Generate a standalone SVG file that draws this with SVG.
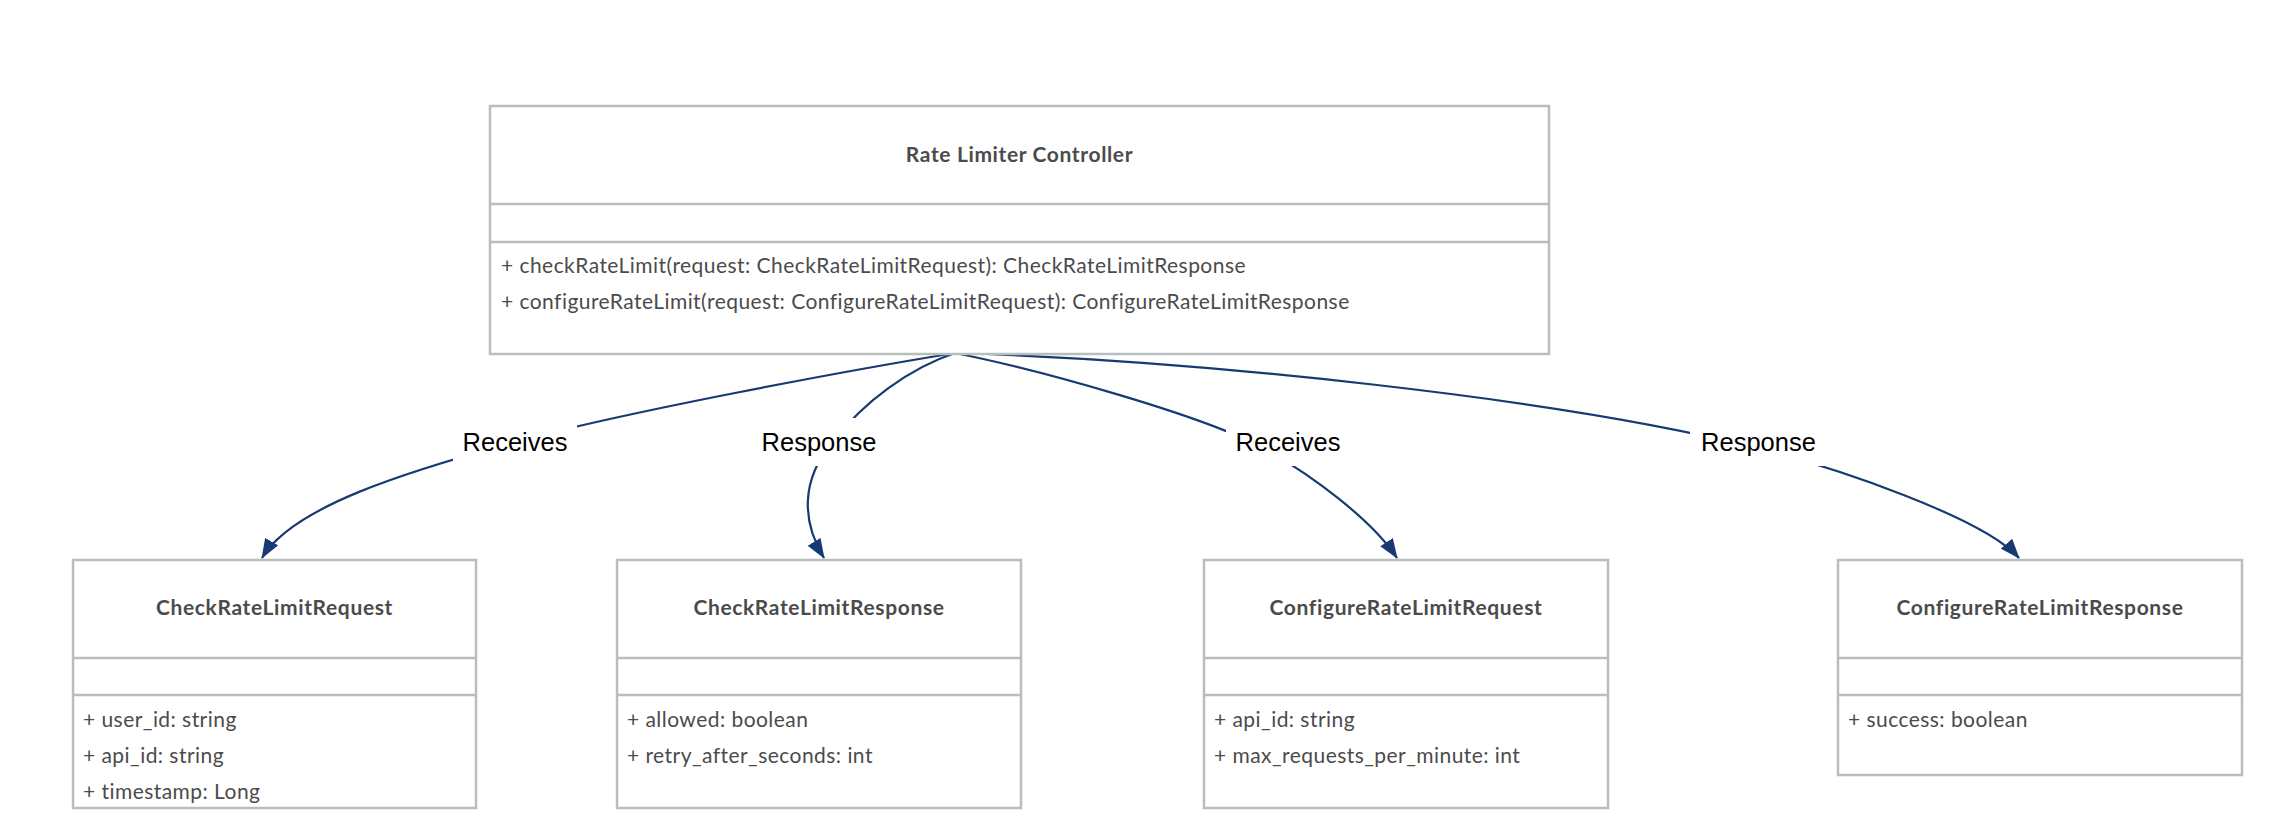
<svg xmlns="http://www.w3.org/2000/svg" width="2282" height="826" viewBox="0 0 2282 826">
<style>
.box{fill:#ffffff;stroke:#b8bdbe;stroke-width:2.5}
.div{stroke:#b8bdbe;stroke-width:2.5}
.title{font-family:Lato,"Open Sans","DejaVu Sans",sans-serif;font-weight:bold;font-size:21px;letter-spacing:0.63px;fill:#4b4b4b;text-anchor:middle}
.mem{font-family:Lato,"Open Sans","DejaVu Sans",sans-serif;font-size:21px;letter-spacing:0.45px;fill:#4b4b4b}
.edge{fill:none;stroke:#183a72;stroke-width:2.2}
.lblbg{fill:#ffffff}
.lbl{font-family:"Liberation Sans",Arial,sans-serif;font-size:25.5px;fill:#000000;text-anchor:middle}
</style>
<defs>
<marker id="arr" markerUnits="userSpaceOnUse" viewBox="0 0 20 15" markerWidth="20" markerHeight="15" refX="19" refY="7.5" orient="auto">
<path d="M0,0 L20,7.5 L0,15 z" fill="#183a72"/>
</marker>
</defs>
<rect width="2282" height="826" fill="#ffffff"/>

<g id="connectors">
<path class="edge" marker-end="url(#arr)" d="M955,353 C845,371 625,412 515,442 C405,472 292,507 262,558"/>
<path class="edge" marker-end="url(#arr)" d="M955,353 C910,368 863,402 833,442 C800,480 802,522 824,558"/>
<path class="edge" marker-end="url(#arr)" d="M955,353 C1040,370 1201,415 1261,447 C1311,474 1372,520 1397,558"/>
<path class="edge" marker-end="url(#arr)" d="M955,353 C1205,361 1557,398 1757,448 C1837,468 1984,518 2019,558"/>
<g id="edge-labels">
<rect class="lblbg" x="453" y="418" width="124" height="48"/>
<text class="lbl" x="515" y="451">Receives</text>
<rect class="lblbg" x="751" y="418" width="136" height="48"/>
<text class="lbl" x="819" y="451">Response</text>
<rect class="lblbg" x="1226" y="418" width="124" height="48"/>
<text class="lbl" x="1288" y="451">Receives</text>
<rect class="lblbg" x="1690" y="418" width="137" height="48"/>
<text class="lbl" x="1758.5" y="451">Response</text>
</g>
</g>

<g id="RateLimiterController">
<rect class="box" x="490" y="106" width="1059" height="248"/>
<line class="div" x1="490" y1="204" x2="1549" y2="204"/>
<line class="div" x1="490" y1="242" x2="1549" y2="242"/>
<text class="title" x="1019.5" y="162">Rate Limiter Controller</text>
<text class="mem" x="501" y="273">+ checkRateLimit(request: CheckRateLimitRequest): CheckRateLimitResponse</text>
<text class="mem" x="501" y="309">+ configureRateLimit(request: ConfigureRateLimitRequest): ConfigureRateLimitResponse</text>
</g>

<g id="CheckRateLimitRequest">
<rect class="box" x="73" y="560" width="403" height="248"/>
<line class="div" x1="73" y1="658" x2="476" y2="658"/>
<line class="div" x1="73" y1="695" x2="476" y2="695"/>
<text class="title" x="274.5" y="615">CheckRateLimitRequest</text>
<text class="mem" x="83" y="727">+ user_id: string</text>
<text class="mem" x="83" y="763">+ api_id: string</text>
<text class="mem" x="83" y="799">+ timestamp: Long</text>
</g>

<g id="CheckRateLimitResponse">
<rect class="box" x="617" y="560" width="404" height="248"/>
<line class="div" x1="617" y1="658" x2="1021" y2="658"/>
<line class="div" x1="617" y1="695" x2="1021" y2="695"/>
<text class="title" x="819" y="615">CheckRateLimitResponse</text>
<text class="mem" x="627" y="727">+ allowed: boolean</text>
<text class="mem" x="627" y="763">+ retry_after_seconds: int</text>
</g>

<g id="ConfigureRateLimitRequest">
<rect class="box" x="1204" y="560" width="404" height="248"/>
<line class="div" x1="1204" y1="658" x2="1608" y2="658"/>
<line class="div" x1="1204" y1="695" x2="1608" y2="695"/>
<text class="title" x="1406" y="615">ConfigureRateLimitRequest</text>
<text class="mem" x="1214" y="727">+ api_id: string</text>
<text class="mem" x="1214" y="763">+ max_requests_per_minute: int</text>
</g>

<g id="ConfigureRateLimitResponse">
<rect class="box" x="1838" y="560" width="404" height="215"/>
<line class="div" x1="1838" y1="658" x2="2242" y2="658"/>
<line class="div" x1="1838" y1="695" x2="2242" y2="695"/>
<text class="title" x="2040" y="615">ConfigureRateLimitResponse</text>
<text class="mem" x="1848" y="727">+ success: boolean</text>
</g>
</svg>
